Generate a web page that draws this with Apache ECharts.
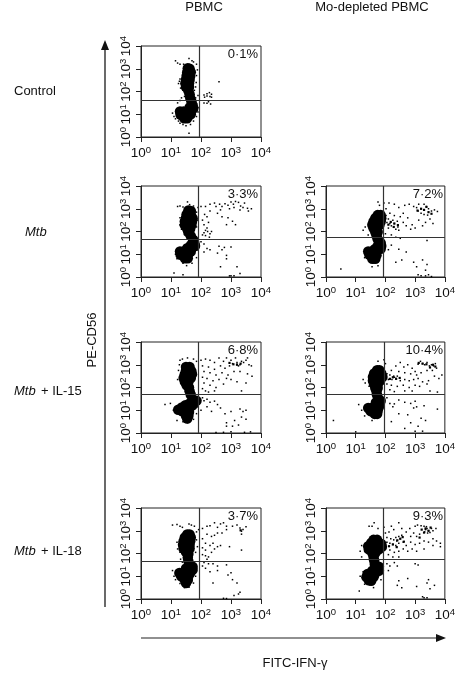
<!DOCTYPE html>
<html>
<head>
<meta charset="utf-8">
<style>html,body{margin:0;padding:0;background:#fff}#chart{width:458px;height:674px}</style>
<script src="https://cdn.jsdelivr.net/npm/echarts@6/dist/echarts.min.js"></script>
</head>
<body>
<div id="chart"></div>
<script>
// all values are log10 of the fluorescence
var tickLabels = ['0', '1', '2', '3', '4'];
var percentLabels = ['0·1%', '3·3%', '7·2%', '6·8%', '10·4%', '3·7%', '9·3%'];
var gateX = [1.93, 1.91, 1.93, 1.92, 1.95, 1.93, 1.93];
var gateY = [1.6, 1.66, 1.73, 1.7, 1.7, 1.68, 1.73];

// dense populations
var controlCore = [[1.56,3.02],[1.62,3.0],[1.54,2.85],[1.66,2.85],[1.52,2.68],[1.64,2.68],[1.5,2.52],[1.62,2.52],[1.48,2.36],[1.6,2.36],[1.5,2.2],[1.6,2.2],[1.58,2.04],[1.62,1.88],[1.64,1.72],[1.68,1.56],[1.72,1.4],[1.62,1.3],[1.74,1.25],[1.3,1.12],[1.42,1.12],[1.54,1.12],[1.66,1.12],[1.32,0.98],[1.44,0.96],[1.56,0.96],[1.66,1.0],[1.44,0.82],[1.54,0.82]];
var mtbCore = [[1.58,2.92],[1.66,2.9],[1.52,2.75],[1.66,2.75],[1.5,2.6],[1.62,2.6],[1.72,2.58],[1.46,2.44],[1.58,2.44],[1.7,2.44],[1.46,2.28],[1.58,2.28],[1.68,2.28],[1.54,2.12],[1.64,2.12],[1.58,1.96],[1.66,1.8],[1.74,1.64],[1.78,1.48],[1.66,1.4],[1.8,1.36],[1.54,1.26],[1.66,1.24],[1.3,1.12],[1.42,1.12],[1.54,1.1],[1.66,1.12],[1.32,0.98],[1.44,0.96],[1.56,0.96],[1.46,0.82],[1.56,0.82]];
var mtbDepletedCore = [[1.74,2.72],[1.84,2.72],[1.66,2.58],[1.78,2.58],[1.86,2.58],[1.6,2.44],[1.72,2.44],[1.84,2.44],[1.56,2.3],[1.68,2.3],[1.8,2.3],[1.6,2.14],[1.72,2.14],[1.66,1.98],[1.74,1.98],[1.7,1.82],[1.74,1.66],[1.84,1.5],[1.86,1.36],[1.74,1.36],[1.64,1.22],[1.76,1.22],[1.84,1.24],[1.42,1.12],[1.54,1.12],[1.66,1.08],[1.46,0.98],[1.58,0.94],[1.7,0.96],[1.56,0.8],[1.66,0.8]];
var il15Core = [[1.5,2.9],[1.62,2.9],[1.5,2.75],[1.62,2.75],[1.68,2.72],[1.46,2.58],[1.58,2.58],[1.7,2.58],[1.42,2.42],[1.54,2.42],[1.66,2.42],[1.46,2.26],[1.58,2.26],[1.52,2.1],[1.6,2.0],[1.62,1.84],[1.66,1.68],[1.85,1.42],[1.74,1.38],[1.62,1.3],[1.72,1.22],[1.48,1.22],[1.36,1.12],[1.24,1.02],[1.36,0.96],[1.48,1.06],[1.6,1.08],[1.48,0.9],[1.6,0.92],[1.5,0.76],[1.58,0.76],[1.54,0.64]];
var il15DepletedCore = [[1.72,2.76],[1.8,2.76],[1.62,2.62],[1.74,2.62],[1.86,2.62],[1.58,2.46],[1.7,2.46],[1.82,2.46],[1.9,2.46],[1.58,2.3],[1.7,2.3],[1.82,2.3],[1.62,2.14],[1.74,2.14],[1.66,1.98],[1.74,1.98],[1.7,1.82],[1.72,1.66],[1.76,1.5],[1.84,1.42],[1.68,1.34],[1.8,1.3],[1.42,1.1],[1.54,1.1],[1.66,1.14],[1.78,1.14],[1.5,0.96],[1.62,0.98],[1.74,0.98],[1.64,0.84],[1.72,0.84]];
var il18Core = [[1.54,2.84],[1.62,2.84],[1.46,2.7],[1.58,2.7],[1.66,2.7],[1.42,2.54],[1.54,2.54],[1.64,2.54],[1.4,2.38],[1.52,2.38],[1.62,2.38],[1.42,2.22],[1.54,2.22],[1.62,2.22],[1.5,2.06],[1.58,1.98],[1.56,1.82],[1.58,1.66],[1.62,1.5],[1.72,1.42],[1.5,1.34],[1.62,1.3],[1.72,1.28],[1.28,1.14],[1.4,1.14],[1.52,1.14],[1.64,1.14],[1.34,1.0],[1.46,1.0],[1.58,1.0],[1.46,0.84],[1.56,0.84],[1.5,0.7]];
var il18DepletedCore = [[1.6,2.6],[1.72,2.6],[1.52,2.46],[1.64,2.46],[1.76,2.46],[1.86,2.42],[1.42,2.32],[1.54,2.32],[1.66,2.32],[1.78,2.32],[1.88,2.3],[1.44,2.18],[1.56,2.18],[1.68,2.18],[1.78,2.18],[1.56,2.02],[1.66,2.02],[1.6,1.86],[1.62,1.7],[1.64,1.54],[1.78,1.42],[1.66,1.36],[1.56,1.24],[1.68,1.24],[1.78,1.24],[1.4,1.1],[1.52,1.1],[1.64,1.1],[1.36,0.96],[1.48,0.96],[1.6,0.96],[1.44,0.82],[1.52,0.8]];

// tighter clumps in the double positive quadrant
var controlClumps = [], mtbClumps = [], il18Clumps = [[3.32,3.02]];
var mtbDepletedClumps = [[2.3,2.35],[2.18,2.42],[2.42,2.28],[2.1,2.3],[2.28,2.2],[3.2,3.0],[3.08,2.92],[3.45,2.85],[3.3,2.95],[3.55,2.78],[3.38,3.08]];
var il15Clumps = [[3.2,3.0],[3.32,3.05],[3.08,3.02],[2.95,3.08]];
var il15DepletedClumps = [[2.25,2.45],[2.36,2.38],[2.15,2.38],[2.48,2.42],[3.25,3.05],[3.12,3.08],[3.38,3.02],[3.6,3.0],[3.5,2.88],[3.68,2.92]];
var il18DepletedClumps = [[2.5,2.65],[2.4,2.58],[2.58,2.72],[2.62,2.52],[3.35,3.1],[3.45,3.0],[3.3,2.92],[3.22,3.05],[3.52,3.14],[2.25,2.4],[2.12,2.32],[2.38,2.28],[3.15,2.7]];

// single events
var controlDots = [[1.15,3.35],[1.22,3.25],[1.3,3.2],[1.6,3.45],[1.75,3.3],[1.85,3.2],[1.7,3.35],[1.42,3.2],[1.88,2.95],[1.85,2.7],[1.3,2.55],[1.28,2.45],[1.25,2.35],[1.35,2.3],[1.32,2.15],[1.4,2.05],[1.84,2.4],[1.82,2.2],[1.78,2.05],[2.1,1.85],[2.2,1.9],[2.28,1.95],[2.35,1.88],[2.3,1.78],[2.2,1.8],[2.12,1.75],[2.35,1.75],[2.1,1.5],[2.2,1.48],[2.25,1.55],[2.32,1.45],[2.6,2.43],[1.6,0.16],[1.05,1.05],[1.1,0.9],[1.15,0.8],[1.25,0.7],[1.3,0.6],[1.4,0.55],[1.5,0.5],[1.65,0.55],[1.75,0.7],[1.85,0.9],[1.9,1.1],[1.9,1.3],[1.85,1.45],[1.22,1.5],[1.3,1.6],[1.35,1.72],[1.45,1.78],[1.75,1.55],[1.82,1.72],[1.9,1.82]];
var mtbDots = [[1.22,3.1],[1.3,3.12],[1.4,3.08],[1.55,3.3],[1.62,3.18],[1.75,3.12],[1.9,3.05],[2.0,3.1],[2.15,3.1],[2.3,3.2],[2.45,3.25],[2.5,3.1],[2.62,3.2],[2.7,3.1],[2.8,3.22],[2.9,3.15],[3.0,3.3],[3.08,3.2],[3.15,3.32],[3.25,3.28],[3.32,3.12],[3.4,3.05],[3.45,3.25],[3.55,3.02],[3.68,3.0],[3.58,2.9],[3.3,2.95],[3.1,3.05],[2.95,3.0],[2.65,2.95],[2.55,2.8],[2.7,2.65],[2.3,2.9],[2.12,2.75],[2.2,2.65],[2.05,2.5],[2.25,2.4],[2.1,2.3],[2.2,2.15],[2.9,2.6],[3.05,2.45],[3.15,2.3],[2.85,2.3],[2.1,1.95],[2.15,2.05],[2.22,2.0],[2.3,1.9],[2.35,2.0],[2.28,1.75],[2.15,1.82],[2.05,1.85],[2.0,1.55],[2.1,1.45],[2.2,1.25],[2.3,1.2],[2.1,1.1],[2.6,1.35],[2.78,1.3],[3.0,1.32],[2.55,1.05],[2.7,1.2],[2.85,0.95],[2.85,0.8],[2.65,0.45],[3.2,0.45],[3.0,0.05],[3.1,0.05],[2.95,0.05],[3.3,0.15],[1.1,0.18],[1.4,0.1],[1.28,1.25],[1.15,1.0],[1.2,0.8],[1.4,0.6],[1.52,0.5],[1.7,0.6],[1.85,0.85],[1.88,1.2],[1.3,2.6],[1.3,2.3],[1.35,2.1],[1.85,2.85],[1.88,2.5],[1.85,2.2]];
var mtbDepletedDots = [[0.5,0.35],[1.32,2.2],[1.25,2.05],[1.42,1.85],[1.75,3.3],[1.8,3.15],[1.95,3.25],[2.02,3.0],[2.12,3.25],[2.3,3.2],[2.45,3.05],[2.65,3.15],[2.8,3.2],[2.95,3.1],[3.05,3.05],[3.12,3.2],[3.2,3.0],[3.3,3.2],[3.38,3.1],[3.45,3.0],[3.55,2.9],[3.65,2.95],[3.75,2.88],[3.1,2.9],[3.2,2.8],[3.3,2.75],[3.42,2.72],[3.5,2.55],[3.6,2.35],[3.35,2.4],[3.25,2.25],[3.12,2.5],[3.0,2.15],[2.9,2.3],[2.75,2.6],[2.6,2.8],[2.5,2.65],[2.4,2.45],[2.3,2.35],[2.42,2.2],[2.25,2.5],[2.15,2.35],[2.1,2.55],[2.05,2.4],[2.2,2.25],[2.35,2.1],[2.45,2.05],[2.1,2.15],[2.02,2.7],[2.15,2.8],[2.3,2.7],[2.6,2.4],[2.7,2.25],[2.85,2.1],[2.0,1.9],[2.2,1.85],[2.35,1.75],[2.5,1.7],[3.4,1.6],[2.2,1.4],[2.45,1.22],[2.7,1.1],[2.1,1.2],[2.35,0.65],[2.95,0.65],[3.25,0.75],[3.4,0.55],[3.05,0.45],[3.35,0.3],[3.1,0.1],[3.2,0.05],[3.35,0.05],[3.45,0.1],[3.55,0.02],[2.55,0.75],[1.55,0.45],[1.3,0.85],[1.75,0.5]];
var il15Dots = [[0.8,1.25],[0.98,1.3],[1.08,1.0],[1.2,0.55],[1.3,3.2],[1.28,3.0],[1.25,2.75],[1.3,2.4],[1.22,2.35],[1.38,3.25],[1.55,3.3],[1.75,3.25],[1.85,3.15],[2.0,3.2],[2.15,3.25],[2.3,3.2],[2.45,3.1],[2.6,3.3],[2.75,3.15],[2.85,3.3],[3.0,3.2],[3.05,3.05],[3.15,3.3],[3.2,3.1],[3.3,3.0],[3.35,3.15],[3.42,3.1],[3.5,3.2],[3.6,3.0],[3.55,3.3],[3.68,2.95],[3.2,3.02],[3.25,2.95],[2.95,2.95],[2.8,2.85],[2.65,2.95],[2.45,2.8],[2.25,2.9],[2.05,2.95],[2.1,2.7],[2.3,2.65],[2.5,2.55],[2.7,2.65],[2.9,2.55],[3.1,2.7],[3.3,2.7],[3.55,2.6],[3.7,2.5],[2.05,2.45],[2.2,2.4],[2.4,2.3],[2.6,2.35],[2.85,2.4],[3.0,2.35],[3.2,2.25],[3.5,2.2],[2.1,2.2],[2.3,2.1],[2.5,2.0],[2.75,2.15],[2.05,1.95],[2.15,1.85],[2.25,1.8],[2.45,1.85],[3.35,1.85],[2.05,1.55],[2.1,1.42],[2.2,1.48],[2.3,1.35],[2.45,1.4],[2.55,1.25],[2.65,1.1],[2.2,1.15],[2.0,1.0],[2.35,0.95],[2.8,0.85],[3.0,0.95],[3.3,1.05],[3.4,0.95],[3.5,1.0],[3.35,0.7],[3.5,0.6],[3.12,0.55],[2.85,0.45],[2.85,0.3],[3.05,0.3],[3.25,0.35],[3.0,0.05],[2.5,0.02],[2.75,0.03],[3.65,0.05],[3.45,0.03],[1.4,0.5],[1.55,0.45],[1.75,0.6],[1.85,0.85],[1.88,1.15]];
var il15DepletedDots = [[0.25,0.55],[1.0,0.05],[1.2,1.0],[1.25,2.35],[1.32,2.2],[1.45,2.05],[1.75,3.15],[1.95,3.22],[2.0,3.05],[2.35,2.95],[2.5,3.1],[2.62,2.9],[2.75,3.0],[2.9,2.85],[3.0,2.7],[3.1,3.02],[3.18,3.15],[3.25,3.05],[3.32,3.0],[3.4,3.1],[3.48,2.95],[3.55,3.0],[3.62,2.95],[3.68,3.05],[3.72,2.85],[3.58,2.75],[3.4,2.75],[3.2,2.65],[3.05,2.55],[2.85,2.6],[2.65,2.65],[2.45,2.7],[2.2,2.75],[2.05,2.6],[2.15,2.55],[2.28,2.5],[2.35,2.4],[2.22,2.35],[2.3,2.45],[2.4,2.5],[2.1,2.35],[2.5,2.3],[2.65,2.35],[2.8,2.3],[2.95,2.35],[3.1,2.4],[3.25,2.25],[3.45,2.3],[3.65,2.5],[3.9,2.55],[3.8,2.4],[2.05,2.15],[2.2,2.1],[2.4,2.05],[2.6,2.1],[2.8,2.0],[3.0,2.1],[3.15,2.05],[3.4,2.15],[2.15,1.9],[2.3,1.82],[2.65,1.85],[2.9,1.85],[3.5,1.85],[3.75,1.8],[2.05,1.55],[2.15,1.3],[2.3,1.28],[2.25,1.15],[2.45,1.45],[2.65,1.35],[2.85,1.3],[3.0,1.4],[2.95,1.1],[3.05,1.15],[3.3,1.2],[3.75,1.05],[2.45,0.85],[2.75,0.8],[2.2,0.5],[2.85,0.45],[3.2,0.65],[3.35,0.55],[3.1,0.3],[2.65,0.2],[3.0,0.08],[3.25,0.08],[1.1,1.25],[1.3,0.75],[1.55,0.55],[1.75,0.7]];
var il18Dots = [[1.05,3.25],[1.2,3.28],[1.3,3.2],[1.38,3.15],[1.6,3.3],[1.68,3.25],[1.78,3.2],[1.85,2.95],[1.92,3.05],[2.05,3.1],[2.2,3.2],[2.3,3.22],[2.45,3.35],[2.55,3.15],[2.65,3.3],[2.75,3.35],[2.85,3.2],[3.05,3.2],[3.2,3.25],[3.3,3.12],[3.4,3.05],[3.5,3.18],[3.35,2.98],[3.35,2.85],[2.85,3.05],[2.7,2.9],[2.55,2.9],[2.45,2.8],[2.35,2.75],[2.2,2.85],[2.05,2.65],[2.15,2.45],[2.3,2.35],[2.4,2.45],[2.55,2.3],[2.65,2.35],[2.45,2.2],[2.35,2.05],[2.05,2.25],[2.15,2.15],[2.95,2.3],[3.35,2.15],[2.05,1.95],[2.15,1.9],[2.25,1.85],[2.2,1.75],[2.1,1.6],[2.05,1.45],[2.15,1.35],[2.25,1.55],[2.4,1.55],[2.55,1.45],[2.3,1.2],[2.55,1.25],[2.85,1.5],[2.9,1.05],[3.0,1.15],[3.05,0.85],[2.4,0.7],[3.2,0.7],[3.3,0.3],[3.25,0.22],[3.1,0.15],[2.75,0.03],[2.85,0.02],[1.05,1.25],[1.1,1.0],[1.15,0.85],[1.3,0.68],[1.45,0.5],[1.6,0.52],[1.75,0.7],[1.82,1.0],[1.2,2.5],[1.22,2.2],[1.3,2.05],[1.32,1.75],[1.38,1.62],[1.85,2.6],[1.88,2.3],[1.82,2.05]];
var il18DepletedDots = [[1.12,0.35],[1.25,1.2],[1.2,1.85],[1.15,2.1],[1.2,2.35],[1.45,3.2],[1.55,3.2],[1.62,3.35],[1.75,3.1],[1.95,3.15],[2.0,2.9],[2.12,2.95],[2.2,3.2],[2.28,3.05],[2.45,3.35],[2.55,3.1],[2.7,2.95],[2.82,3.1],[2.95,2.9],[3.0,3.2],[3.08,3.25],[3.2,3.22],[3.3,3.2],[3.35,3.05],[3.32,2.95],[3.4,3.1],[3.38,3.18],[3.45,3.0],[3.42,2.9],[3.5,2.92],[3.55,3.1],[3.6,3.0],[3.7,3.1],[3.15,2.85],[3.05,2.75],[2.85,2.75],[2.55,2.8],[2.45,2.75],[2.5,2.65],[2.35,2.7],[2.38,2.55],[2.28,2.6],[2.18,2.65],[2.05,2.7],[2.05,2.5],[2.15,2.45],[2.25,2.4],[2.35,2.35],[2.45,2.45],[2.6,2.5],[2.7,2.35],[2.85,2.5],[3.0,2.4],[3.15,2.45],[3.3,2.55],[3.45,2.5],[3.6,2.65],[3.72,2.55],[3.6,2.35],[3.85,2.45],[3.85,2.3],[2.0,2.2],[2.15,2.15],[2.3,2.05],[2.45,2.1],[2.6,2.2],[2.75,2.1],[2.9,2.2],[3.05,2.1],[3.3,2.2],[2.1,1.95],[2.25,1.85],[2.45,1.85],[2.05,1.55],[2.15,1.45],[2.3,1.6],[2.4,1.45],[3.0,1.55],[3.1,1.5],[2.1,1.25],[1.9,1.2],[2.45,0.8],[2.4,0.6],[2.55,0.5],[2.75,0.9],[3.45,0.85],[3.4,0.7],[3.5,0.45],[3.65,0.6],[3.05,0.55],[3.25,0.1],[3.4,0.05],[3.3,0.05],[1.3,0.65],[1.15,1.0],[1.6,0.5],[1.85,0.85]];

var coreSets = [controlCore, mtbCore, mtbDepletedCore, il15Core, il15DepletedCore, il18Core, il18DepletedCore];
var clumpSets = [controlClumps, mtbClumps, mtbDepletedClumps, il15Clumps, il15DepletedClumps, il18Clumps, il18DepletedClumps];
var dotSets = [controlDots, mtbDots, mtbDepletedDots, il15Dots, il15DepletedDots, il18Dots, il18DepletedDots];

var FONT = '"Liberation Sans", Arial, sans-serif';
var PLOT_W = 120, PLOT_H = 91;
var plotLeft = [141, 141, 326, 141, 326, 141, 326];
var plotTop = [46, 186, 186, 342, 342, 508, 508];

var chart = echarts.init(document.getElementById('chart'), null, {renderer: 'canvas'});

function powerLabel(v) {
    return '{b|10}{s|' + tickLabels[v] + '}';
}
var labelRich = {
    b: {fontSize: 13.5, fontFamily: FONT, color: '#111'},
    s: {fontSize: 9.5, fontFamily: FONT, color: '#111', padding: [0, 0, 7, 0]}
};

var grids = [], xAxes = [], yAxes = [], series = [], graphics = [];

for (var i = 0; i < coreSets.length; i++) {
    grids.push({left: plotLeft[i], top: plotTop[i], width: PLOT_W, height: PLOT_H, show: true, borderColor: '#222', borderWidth: 1, backgroundColor: '#fff'});
    xAxes.push({
        gridIndex: i, type: 'value', min: 0, max: 4, interval: 1,
        splitLine: {show: false},
        axisLine: {show: true, lineStyle: {color: '#222', width: 1}},
        axisTick: {show: true, length: 5, lineStyle: {color: '#222', width: 1}},
        axisLabel: {formatter: powerLabel, rich: labelRich, margin: 8, hideOverlap: false, showMinLabel: true, showMaxLabel: true}
    });
    yAxes.push({
        gridIndex: i, type: 'value', min: 0, max: 4, interval: 1,
        splitLine: {show: false},
        axisLine: {show: true, lineStyle: {color: '#222', width: 1}},
        axisTick: {show: true, length: 5, lineStyle: {color: '#222', width: 1}},
        axisLabel: {formatter: powerLabel, rich: labelRich, rotate: 90, margin: 6, hideOverlap: false, showMinLabel: true, showMaxLabel: true}
    });
    series.push({
        type: 'scatter', xAxisIndex: i, yAxisIndex: i, data: coreSets[i],
        symbol: 'circle', symbolSize: 10.5, silent: true, animation: false,
        itemStyle: {color: '#000', opacity: 1}
    });
    series.push({
        type: 'scatter', xAxisIndex: i, yAxisIndex: i, data: clumpSets[i],
        symbol: 'rect', symbolSize: 2.2, silent: true, animation: false,
        itemStyle: {color: '#000', opacity: 1}
    });
    series.push({
        type: 'scatter', xAxisIndex: i, yAxisIndex: i, data: dotSets[i],
        symbol: 'rect', symbolSize: 1.5, silent: true, animation: false,
        itemStyle: {color: '#000', opacity: 1},
        markLine: {
            silent: true, animation: false, symbol: 'none', label: {show: false},
            lineStyle: {color: '#333', width: 1.2, type: 'solid'},
            data: [{xAxis: gateX[i]}, {yAxis: gateY[i]}]
        }
    });
    graphics.push({
        type: 'text', right: 458 - plotLeft[i] - PLOT_W + 3, top: plotTop[i] + 2, z: 10,
        style: {text: percentLabels[i], font: '13px ' + FONT, fill: '#111'}
    });
}

// column + row captions
function caption(txt, x, y, align, italic) {
    graphics.push({
        type: 'text', x: x, y: y,
        style: {text: txt, font: (italic ? 'italic ' : '') + '13px ' + FONT, fill: '#111', align: align, verticalAlign: 'middle'}
    });
}
caption('PBMC', 204, 7, 'center');
caption('Mo-depleted PBMC', 372, 7, 'center');
caption('Control', 14, 91, 'left');
caption('Mtb', 25, 232, 'left', true);
caption('Mtb', 14, 391, 'left', true);
caption('+ IL-15', 41, 391, 'left');
caption('Mtb', 14, 551, 'left', true);
caption('+ IL-18', 41, 551, 'left');
caption('FITC-IFN-γ', 295, 663, 'center');
graphics.push({
    type: 'text', x: 92, y: 340, rotation: Math.PI / 2,
    style: {text: 'PE-CD56', font: '13px ' + FONT, fill: '#111', align: 'center', verticalAlign: 'middle'}
});

// the two long arrows
graphics.push({type: 'line', shape: {x1: 105, y1: 607, x2: 105, y2: 48}, style: {stroke: '#444', lineWidth: 1.6}});
graphics.push({type: 'polygon', shape: {points: [[105, 40], [101, 50], [109, 50]]}, style: {fill: '#111'}});
graphics.push({type: 'line', shape: {x1: 141, y1: 638, x2: 438, y2: 638}, style: {stroke: '#222', lineWidth: 1.2}});
graphics.push({type: 'polygon', shape: {points: [[446, 638], [436, 634], [436, 642]]}, style: {fill: '#111'}});

chart.setOption({
    animation: false,
    backgroundColor: '#fff',
    grid: grids,
    xAxis: xAxes,
    yAxis: yAxes,
    series: series,
    graphic: graphics
});
</script>
</body>
</html>
